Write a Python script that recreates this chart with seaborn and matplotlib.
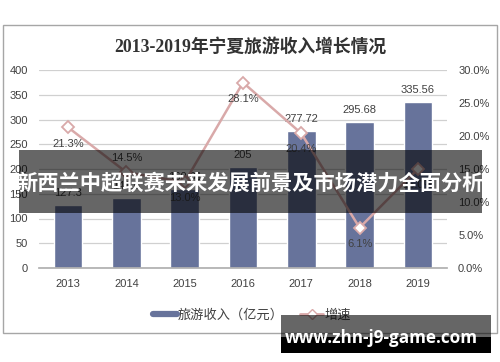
import matplotlib
matplotlib.use("Agg")
import matplotlib.pyplot as plt
import seaborn as sns
import numpy as np
import pandas as pd
from matplotlib.patches import Rectangle
from matplotlib.lines import Line2D

years = ["2013", "2014", "2015", "2016", "2017", "2018", "2019"]
income = [127.3, 141.6, 160.01, 205, 277.72, 295.68, 335.56]
growth = [21.3, 14.5, 13.0, 28.1, 20.4, 6.1, 15.0]
income_labels = ["127.3", "141.6", "160.01", "205", "277.72", "295.68", "335.56"]
growth_labels = ["21.3%", "14.5%", "13.0%", "28.1%", "20.4%", "6.1%", "15.0%"]
growth_label_side = ["below", "above", "below", "below", "below", "below", "below"]
left_ticks = [0, 50, 100, 150, 200, 250, 300, 350, 400]
right_ticks = [0, 5, 10, 15, 20, 25, 30]

title = "2013-2019年宁夏旅游收入增长情况"
banner = "新西兰中超联赛未来发展前景及市场潜力全面分析"
watermark = "www.zhn-j9-game.com"

sns.set_theme(style="white")
plt.rcParams["font.family"] = ["Liberation Sans", "Noto Sans CJK SC", "DejaVu Sans"]

BAR = "#67739b"
PINK = "#d9a9a9"
TXT = "#404040"
GRID = "#d0d0d0"

W, H = 500, 362
fig = plt.figure(figsize=(5, 3.62), dpi=100)

# outer frame
fig.patches.append(Rectangle((2.5 / W, 1 - 333 / H), (497 - 2.5) / W, (333 - 25) / H,
                             transform=fig.transFigure, fill=False, edgecolor="#a6a6a6",
                             linewidth=1.0, zorder=0))

ax = fig.add_axes([39 / W, 1 - 268 / H, (447 - 39) / W, (268 - 70) / H])
df = pd.DataFrame({"year": years, "income": income})
sns.barplot(data=df, x="year", y="income", color=BAR, width=0.49, saturation=1,
            ax=ax, zorder=2)
ax.set_xlim(-0.5, 6.5)
ax.set_ylim(0, 400)
ax.set_yticks(left_ticks)
ax.set_yticklabels([str(t) for t in left_ticks])
ax.set_xlabel("")
ax.set_ylabel("")
ax.grid(axis="y", color=GRID, linewidth=0.9, zorder=0)
ax.set_axisbelow(True)
for s in ["top", "left", "right"]:
    ax.spines[s].set_visible(False)
ax.spines["bottom"].set_color("#b0b0b0")
ax.tick_params(axis="y", length=0, pad=8, labelsize=8, labelcolor=TXT)
ax.tick_params(axis="x", which="major", length=0, pad=8, labelsize=8, labelcolor=TXT)
ax.set_xticks(np.arange(-0.5, 7, 1), minor=True)
ax.tick_params(axis="x", which="minor", length=4, color="#b0b0b0", width=0.8)

for i, (v, lab) in enumerate(zip(income, income_labels)):
    ax.annotate(lab, (i, v), xytext=(0, 5), textcoords="offset points",
                ha="center", va="bottom", fontsize=8, color=TXT, zorder=5)

ax2 = ax.twinx()
sns.lineplot(x=np.arange(len(years)), y=growth, ax=ax2, color=PINK, linewidth=1.8,
             marker="D", markersize=6, markerfacecolor="white",
             markeredgecolor=PINK, markeredgewidth=1.3, zorder=4)
ax2.set_ylim(0, 30)
ax2.set_xlim(-0.5, 6.5)
ax2.set_yticks(right_ticks)
ax2.set_yticklabels([f"{t:.1f}%" for t in right_ticks])
ax2.tick_params(axis="y", length=0, pad=8, labelsize=8, labelcolor=TXT)
ax2.set_ylabel("")
for s in ax2.spines.values():
    s.set_visible(False)
ax2.grid(False)

for i, (v, lab, side) in enumerate(zip(growth, growth_labels, growth_label_side)):
    dy = -8 if side == "below" else 7
    ax2.annotate(lab, (i, v), xytext=(0, dy), textcoords="offset points",
                 ha="center", va="top" if side == "below" else "bottom",
                 fontsize=8, color=TXT, zorder=5)

fig.text(0.5, 1 - 47 / H, title, ha="center", va="center", fontsize=12.8,
         fontweight="bold", color="#333333",
         family=["Liberation Serif", "Noto Sans CJK SC", "DejaVu Sans"])

handles = [Line2D([0], [0], color=BAR, linewidth=4.5),
           Line2D([0], [0], color=PINK, linewidth=2, marker="D", markersize=5,
                  markerfacecolor="white", markeredgecolor=PINK)]
fig.legend(handles, ["旅游收入（亿元）", "增速"], loc="center",
           bbox_to_anchor=(252 / W, 1 - 315 / H), ncol=2, frameon=False,
           fontsize=9.5, handlelength=1.8, handletextpad=0.1, columnspacing=1.2,
           labelcolor=TXT)

# banner overlay
fig.patches.append(Rectangle((19 / W, 1 - 213 / H), (482 - 19) / W, (213 - 150) / H,
                             transform=fig.transFigure, facecolor="black", alpha=0.6,
                             edgecolor="none", zorder=10))
fig.text(250 / W, 1 - 183 / H, banner, ha="center", va="center", fontsize=15.3,
         fontweight="bold", color="white", zorder=11,
         family=["Noto Sans CJK SC", "DejaVu Sans"])

# watermark box
fig.patches.append(Rectangle((281 / W, 1 - 337 / H), (491 - 281) / W, (337 - 315) / H,
                             transform=fig.transFigure, facecolor="black", alpha=0.6,
                             edgecolor="none", zorder=10))
fig.patches.append(Rectangle((281 / W, 1 - 353 / H), (491 - 281) / W, (353 - 337) / H,
                             transform=fig.transFigure, facecolor="black",
                             edgecolor="none", zorder=10))
fig.text(381 / W, 1 - 338 / H, watermark, ha="center", va="center", fontsize=12.3,
         fontweight="bold", color="white", zorder=11,
         family=["Open Sans", "DejaVu Sans"])

fig.savefig("out.png", dpi=100)
